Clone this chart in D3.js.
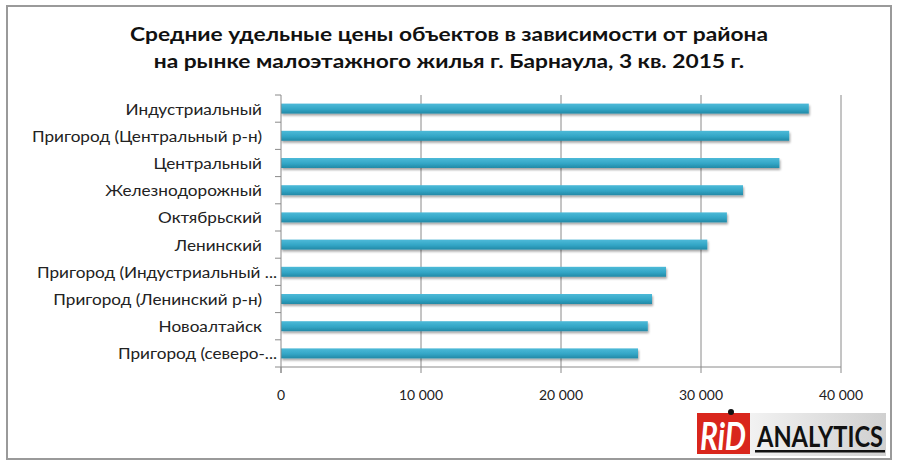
<!DOCTYPE html>
<html><head><meta charset="utf-8">
<script src="https://cdn.jsdelivr.net/npm/d3@7"></script>
<style>
body{margin:0;background:#fff;}
svg{display:block;}
text{font-family:Lato,"Open Sans",sans-serif;}
</style></head>
<body>
<svg id="c" width="900" height="464"></svg>
<script>
const categories = ["Индустриальный","Пригород (Центральный р-н)","Центральный","Железнодорожный","Октябрьский","Ленинский","Пригород (Индустриальный ...","Пригород (Ленинский р-н)","Новоалтайск","Пригород (северо-..."];
const values = [37700, 36300, 35600, 33000, 31850, 30450, 27500, 26500, 26200, 25500];
const xTicks = [0, 10000, 20000, 30000, 40000];
const titleLines = ["Средние удельные цены объектов в зависимости  от района","на рынке малоэтажного  жилья г. Барнаула,  3 кв. 2015 г."];

const svg = d3.select("#c");
const defs = svg.append("defs");
const grad = defs.append("linearGradient").attr("id","bg").attr("x1",0).attr("y1",0).attr("x2",0).attr("y2",1);
grad.append("stop").attr("offset","0%").attr("stop-color","#4dbad8");
grad.append("stop").attr("offset","55%").attr("stop-color","#33a6c6");
grad.append("stop").attr("offset","100%").attr("stop-color","#2389a6");
const f = defs.append("filter").attr("id","sh").attr("x","-5%").attr("y","-50%").attr("width","110%").attr("height","250%");
f.append("feDropShadow").attr("dx",1).attr("dy",2).attr("stdDeviation",1.2).attr("flood-color","#000").attr("flood-opacity",0.35);
const lg = defs.append("linearGradient").attr("id","lgray").attr("x1",0).attr("y1",0).attr("x2",1).attr("y2",0);
lg.append("stop").attr("offset","0%").attr("stop-color","#ffffff");
lg.append("stop").attr("offset","100%").attr("stop-color","#d0d0d0");

function stretch(sel, k){ sel.each(function(){ const w=this.getComputedTextLength(); d3.select(this).attr("textLength",w*k).attr("lengthAdjust","spacingAndGlyphs"); }); }

// frame
svg.append("rect").attr("x",7).attr("y",6).attr("width",884).attr("height",453)
  .attr("fill","#fff").attr("stroke","#9a9a9a").attr("stroke-width",2);

// title
const tt = svg.append("g").selectAll("text").data(titleLines).join("text")
  .attr("x",449).attr("y",(d,i)=>41+i*27).attr("text-anchor","middle")
  .attr("font-size",18.5).attr("font-weight",700).attr("fill","#111").text(d=>d);
const tk = 638/tt.node().getComputedTextLength();
stretch(tt, tk);

const x = d3.scaleLinear().domain([0,40000]).range([281,841]);
const y = d3.scaleBand().domain(categories).range([95,367]).padding(0);

// gridlines
svg.append("g").selectAll("line").data(xTicks.filter(d=>d>0)).join("line")
  .attr("x1",d=>x(d)).attr("x2",d=>x(d)).attr("y1",95).attr("y2",367)
  .attr("stroke","#8a8a8a").attr("stroke-width",1);

// bars
const bh = 10;
svg.append("g").selectAll("rect").data(values).join("rect")
  .attr("x",x(0)).attr("y",(d,i)=>y(categories[i])+y.bandwidth()/2-bh/2)
  .attr("width",d=>x(d)-x(0)).attr("height",bh)
  .attr("fill","url(#bg)").attr("filter","url(#sh)");

// y axis
const ya = svg.append("g").attr("transform",`translate(${x(0)},0)`);
ya.append("line").attr("x1",0).attr("x2",0).attr("y1",95).attr("y2",373).attr("stroke","#8a8a8a");
const bounds = categories.map(c=>y(c)).concat([y.range()[1]]);
ya.selectAll("line.t").data(bounds).join("line").attr("class","t")
  .attr("x1",-6).attr("x2",0).attr("y1",d=>d).attr("y2",d=>d).attr("stroke","#8a8a8a");
const labs = svg.append("g").selectAll("text").data(categories).join("text")
  .attr("x",d=>d.endsWith("...")?277:262).attr("y",d=>y(d)+y.bandwidth()/2+6)
  .attr("text-anchor","end").attr("font-size",14.5).attr("fill","#222").text(d=>d);
const lk = 230/labs.filter((d,i)=>i===1).node().getComputedTextLength();
stretch(labs, lk);

// x axis
const xa = svg.append("g").attr("transform","translate(0,367)");
xa.append("line").attr("x1",x(0)).attr("x2",x(40000)).attr("y1",0).attr("y2",0).attr("stroke","#8a8a8a");
xa.selectAll("line.t").data(xTicks).join("line").attr("class","t")
  .attr("x1",d=>x(d)).attr("x2",d=>x(d)).attr("y1",0).attr("y2",6).attr("stroke","#8a8a8a");
const fmt = d => d3.format(",")(d).replace(/,/g," ");
const xl = xa.selectAll("text").data(xTicks).join("text")
  .attr("x",d=>x(d)).attr("y",33).attr("text-anchor","middle")
  .attr("font-size",12.5).attr("fill","#222").text(fmt);
const xk = 44/xl.filter((d,i)=>i===1).node().getComputedTextLength();
stretch(xl, xk);

// logo
const logo = svg.append("g");
logo.append("rect").attr("x",697).attr("y",413).attr("width",189).attr("height",43).attr("fill","url(#lgray)");
logo.append("rect").attr("x",697).attr("y",413).attr("width",53).attr("height",41).attr("fill","#d9261c");
logo.append("text").attr("x",700).attr("y",450)
  .attr("font-family","'DejaVu Sans Condensed','DejaVu Sans',sans-serif").attr("font-weight",700).attr("font-style","italic")
  .attr("font-size",38).attr("fill","#fff").attr("textLength",46).attr("lengthAdjust","spacingAndGlyphs").text("RiD");
logo.append("circle").attr("cx",731).attr("cy",412).attr("r",3).attr("fill","#111");
logo.append("text").attr("transform","translate(757,447) scale(1,1.4)")
  .attr("font-family","'DejaVu Sans Condensed','DejaVu Sans',sans-serif").attr("font-weight",700)
  .attr("font-size",21).attr("fill","#111").attr("textLength",126).attr("lengthAdjust","spacingAndGlyphs").text("ANALYTICS");
logo.append("rect").attr("x",755).attr("y",450).attr("width",130).attr("height",2.5).attr("fill","#111");
</script>
</body></html>
